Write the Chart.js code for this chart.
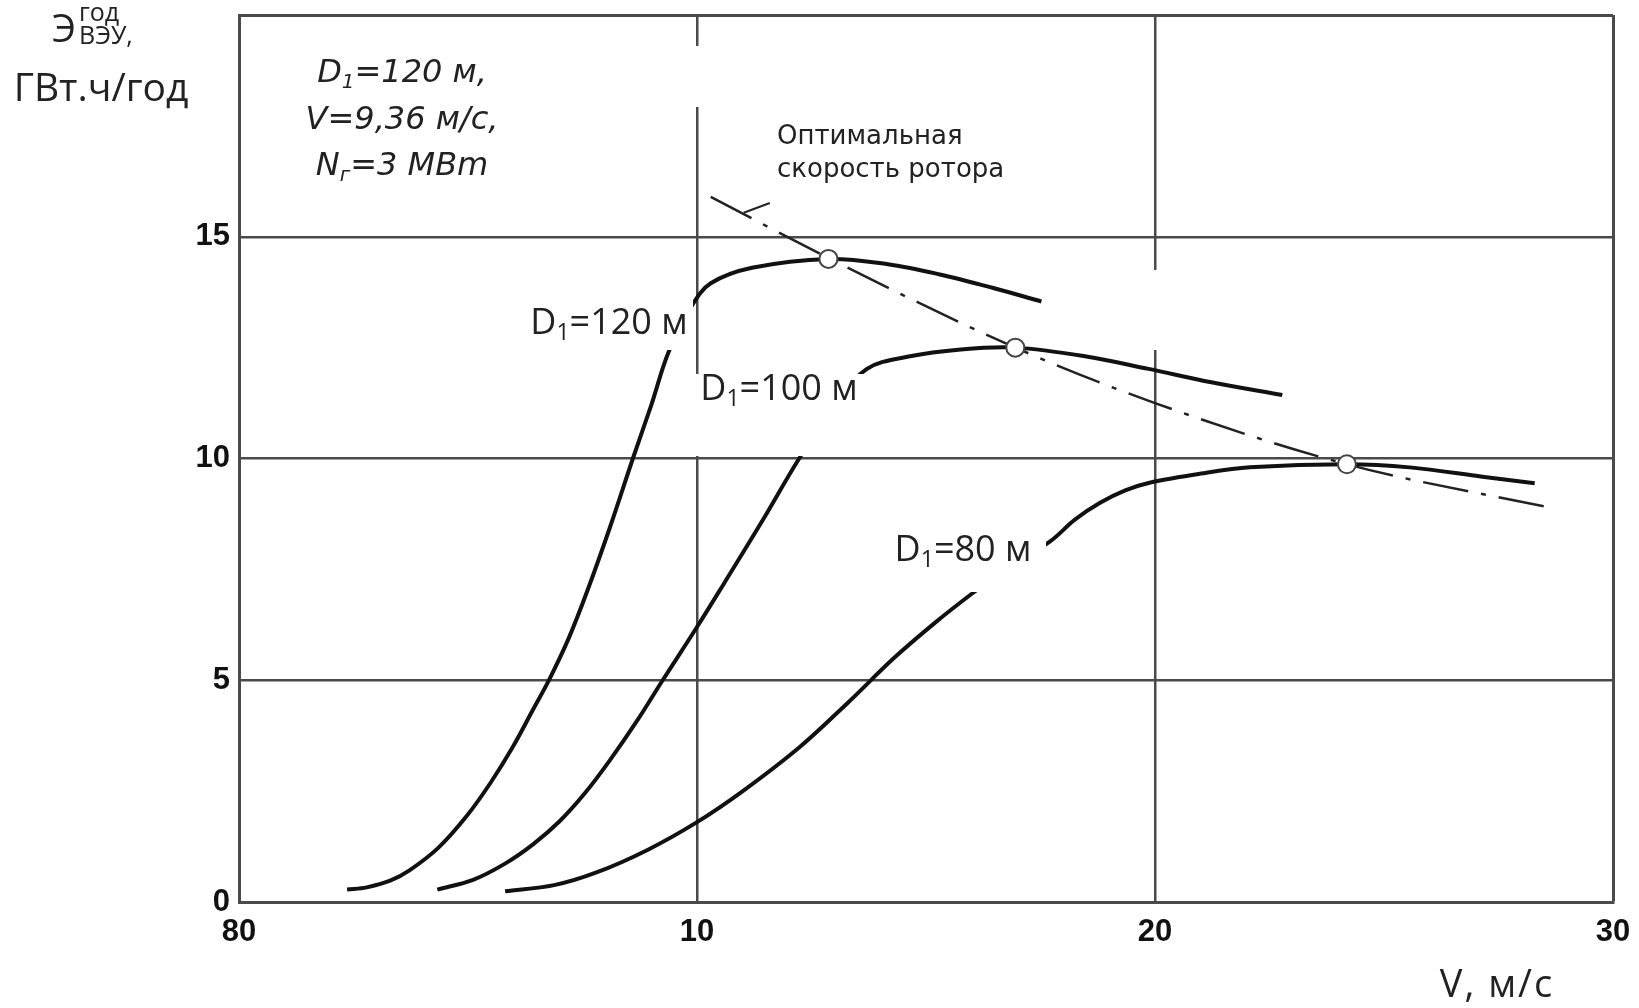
<!DOCTYPE html>
<html lang="ru">
<head>
<meta charset="utf-8">
<title>Годовая выработка ВЭУ</title>
<script src="https://cdn.jsdelivr.net/npm/chart.js@4.4.1/dist/chart.umd.min.js"></script>
<style>
  html, body { margin: 0; padding: 0; background: #fff; }
  #wrap { position: relative; width: 1639px; height: 1008px; }
</style>
</head>
<body>
<div id="wrap"><canvas id="chart"></canvas></div>
<script>
// Годовая выработка ВЭУ в зависимости от скорости ротора, три диаметра ротора
const xTickLabels = ['80', '10', '20', '30'];
const yTickValues = [0, 5, 10, 15];

// [V, м/с ; Э, ГВт.ч/год]
const curveD120 = [
  [2.36, 0.28], [2.79, 0.33], [3.3, 0.48], [3.73, 0.72], [4.35, 1.22], [4.98, 1.95],
  [5.5, 2.7], [5.98, 3.5], [6.4, 4.3], [6.79, 5.05], [7.2, 5.95], [7.6, 7.0],
  [8.1, 8.45], [8.6, 10.0], [9.0, 11.2], [9.38, 12.4], [9.89, 13.45], [10.3, 13.95],
  [11.2, 14.3], [12.87, 14.5], [14.17, 14.38], [15.3, 14.15], [16.45, 13.85], [17.52, 13.54]
];
const curveD100 = [
  [4.33, 0.28], [5.11, 0.5], [5.8, 0.86], [6.42, 1.3], [7.0, 1.82], [7.55, 2.45],
  [8.1, 3.2], [8.7, 4.1], [9.25, 5.0], [10.0, 6.2], [10.6, 7.2], [11.4, 8.55],
  [12.23, 10.0], [13.0, 11.2], [13.71, 12.02], [14.62, 12.3], [15.76, 12.46],
  [16.95, 12.5], [18.5, 12.3], [19.86, 12.02], [21.23, 11.72], [22.78, 11.43]
];
const curveD80 = [
  [5.81, 0.24], [6.88, 0.38], [7.79, 0.66], [8.93, 1.18], [10.0, 1.8], [11.0, 2.5],
  [12.25, 3.5], [13.3, 4.5], [14.3, 5.5], [15.2, 6.3], [16.0, 6.95], [16.6, 7.4],
  [17.71, 8.13], [18.25, 8.62], [18.8, 9.0], [19.35, 9.28], [19.9, 9.46], [21.0, 9.66],
  [22.07, 9.8], [24.19, 9.87], [25.56, 9.8], [27.15, 9.59], [28.29, 9.44]
];
// линия оптимальной скорости ротора и точки максимума
const optimumLine = [[10.3, 15.9], [12.87, 14.52], [16.95, 12.5], [20.0, 11.25], [24.19, 9.87], [28.68, 8.88]];
const optimumPoints = [[12.87, 14.5], [16.95, 12.5], [24.19, 9.87]];
const pointerLine = [[11.02, 15.54], [11.59, 15.76]];

const xy = arr => arr.map(p => ({ x: p[0], y: p[1] }));

const INK = '#111';
const GRID = '#4a4a4a';

function curve(data) {
  return {
    data: xy(data),
    borderColor: INK,
    borderWidth: 4,
    pointRadius: 0,
    tension: 0.35,
    order: 3
  };
}

// текст с индексами: части рисуются подряд, каждая своим шрифтом
function drawRich(ctx, parts, x, y, align, spacing) {
  ctx.letterSpacing = (spacing || 0) + 'px';
  let w = 0;
  parts.forEach(p => { ctx.font = p.font; p.w = ctx.measureText(p.t).width; w += p.w; });
  let cx = align === 'center' ? x - w / 2 : (align === 'right' ? x - w : x);
  ctx.textAlign = 'left';
  ctx.textBaseline = 'middle';
  parts.forEach(p => {
    ctx.font = p.font;
    ctx.fillText(p.t, cx, y + (p.dy || 0));
    cx += p.w;
  });
  ctx.letterSpacing = '0px';
}

const labelFont = '36px "Open Sans"';
const labelSub = '23px "Open Sans"';

const labelsPlugin = {
  id: 'labels',
  afterDatasetsDraw(chart) {
    const ctx = chart.ctx;
    ctx.save();
    // подложки под подписями кривых и разрывы сетки
    ctx.fillStyle = '#fff';
    ctx.fillRect(520, 298, 173, 52);
    ctx.fillRect(690, 374, 178, 82);
    ctx.fillRect(885, 530, 161, 62);
    ctx.fillRect(690, 46, 14, 61);
    ctx.fillRect(1148, 270, 14, 80);

    ctx.fillStyle = '#222';
    const d1 = (num, x, y) => drawRich(ctx, [
      { t: 'D', font: labelFont },
      { t: '1', font: labelSub, dy: 9 },
      { t: '=' + num + ' м', font: labelFont }
    ], x, y, 'center');
    d1('120', 609, 324);
    d1('100', 779, 390);
    d1('80', 963, 551);

    drawRich(ctx, [{ t: 'Оптимальная', font: '26px "DejaVu Sans"' }], 777, 137, 'left');
    drawRich(ctx, [{ t: 'скорость ротора', font: '26px "DejaVu Sans"' }], 777, 170, 'left');

    // параметры установки
    const it = 'oblique 32px "DejaVu Sans"';
    const itSub = 'oblique 20px "DejaVu Sans"';
    drawRich(ctx, [{ t: 'D', font: it }, { t: '1', font: itSub, dy: 9 }, { t: '=120 м,', font: it }], 402, 74, 'center');
    drawRich(ctx, [{ t: 'V=9,36 м/с,', font: it }], 402, 121, 'center');
    drawRich(ctx, [{ t: 'N', font: it }, { t: 'г', font: itSub, dy: 9 }, { t: '=3 MBm', font: it }], 402, 167, 'center');

    // подписи осей
    drawRich(ctx, [{ t: 'V, м/с', font: '38px "Open Sans"' }], 1497, 986, 'center', 2);
    drawRich(ctx, [{ t: 'Э', font: '38px "Open Sans"' }], 52, 31, 'left');
    drawRich(ctx, [{ t: 'год', font: '25px "Open Sans"' }], 79, 14, 'left');
    drawRich(ctx, [{ t: 'ВЭУ,', font: '25px "Open Sans"' }], 79, 37, 'left');
    drawRich(ctx, [{ t: 'ГВт.ч/год', font: '39px "Open Sans"' }], 101, 90, 'center');
    ctx.restore();
  }
};

const edgeWidth = (ctx, max) => (ctx.tick && ctx.tick.value === max ? 3 : 2.5);
const tickFont = { family: '"Liberation Sans"', weight: 'bold', size: 31 };

new Chart(document.getElementById('chart'), {
  type: 'line',
  data: {
    datasets: [
      curve(curveD120),
      curve(curveD100),
      curve(curveD80),
      {
        data: xy(optimumLine),
        borderColor: '#222',
        borderWidth: 2.5,
        borderDash: [46, 13, 5, 13],
        pointRadius: 0,
        cubicInterpolationMode: 'monotone',
        order: 2
      },
      {
        data: xy(pointerLine),
        borderColor: '#222',
        borderWidth: 2,
        pointRadius: 0,
        order: 2
      },
      {
        data: xy(optimumPoints),
        showLine: false,
        pointRadius: 9,
        pointBackgroundColor: '#fff',
        pointBorderColor: '#444',
        pointBorderWidth: 2,
        order: 1
      }
    ]
  },
  options: {
    responsive: true,
    maintainAspectRatio: false,
    animation: false,
    events: [],
    layout: { padding: { top: 15, right: 26, left: 0, bottom: 0 } },
    plugins: { legend: { display: false }, tooltip: { enabled: false } },
    scales: {
      x: {
        type: 'linear',
        min: 0,
        max: 30,
        afterFit: s => { s.height = 106; s.paddingLeft = 0; s.paddingRight = 0; },
        ticks: {
          stepSize: 10,
          padding: 12,
          color: '#111',
          font: tickFont,
          callback: (v, i) => xTickLabels[i]
        },
        grid: { color: GRID, lineWidth: c => edgeWidth(c, 30), drawTicks: false },
        border: { color: GRID, width: 3 }
      },
      y: {
        type: 'linear',
        min: 0,
        max: 20,
        afterFit: s => { s.width = 239; s.paddingTop = 0; s.paddingBottom = 0; },
        ticks: {
          stepSize: 5,
          padding: 9,
          color: '#111',
          font: tickFont,
          callback: v => (yTickValues.includes(v) ? String(v) : '')
        },
        grid: { color: GRID, lineWidth: c => edgeWidth(c, 20), drawTicks: false },
        border: { color: GRID, width: 3 }
      }
    }
  },
  plugins: [labelsPlugin]
});
</script>
</body>
</html>
